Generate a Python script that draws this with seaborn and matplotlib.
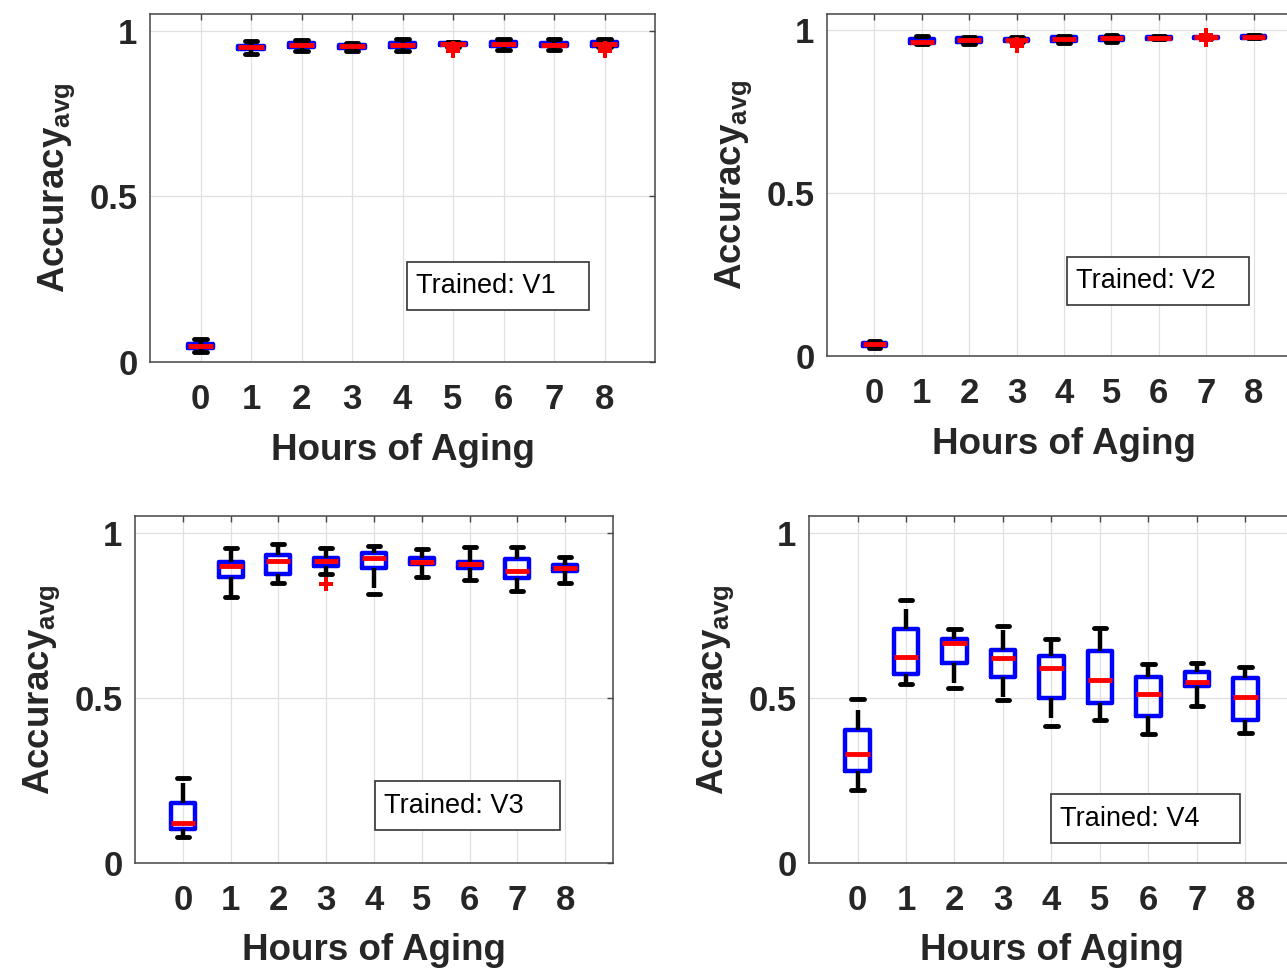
import matplotlib
matplotlib.use("Agg")
import matplotlib.pyplot as plt
from matplotlib.patches import Rectangle
import pandas as pd
import seaborn as sns

sns.set_style("white")
plt.rcParams["font.family"] = ["Liberation Sans", "DejaVu Sans"]
plt.rcParams["mathtext.fontset"] = "custom"
plt.rcParams["mathtext.rm"] = "Liberation Sans:bold"
plt.rcParams["mathtext.bf"] = "Liberation Sans:bold"

HOURS = ["0", "1", "2", "3", "4", "5", "6", "7", "8"]

# Five-number summaries per aging hour (whisker low, Q1, median, Q3, whisker high)
V1_LOW = [0.030, 0.930, 0.940, 0.937, 0.937, 0.952, 0.943, 0.942, 0.952]
V1_Q1 = [0.042, 0.945, 0.951, 0.948, 0.950, 0.956, 0.955, 0.953, 0.955]
V1_MED = [0.048, 0.950, 0.957, 0.953, 0.957, 0.960, 0.960, 0.958, 0.960]
V1_Q3 = [0.054, 0.955, 0.963, 0.958, 0.964, 0.964, 0.965, 0.963, 0.965]
V1_HIGH = [0.068, 0.970, 0.972, 0.964, 0.974, 0.966, 0.974, 0.976, 0.976]
V1_OUT_HOUR = ["5", "5", "8", "8"]
V1_OUT_VAL = [0.948, 0.940, 0.947, 0.938]

V2_LOW = [0.024, 0.958, 0.957, 0.963, 0.960, 0.965, 0.972, 0.976, 0.975]
V2_Q1 = [0.031, 0.960, 0.965, 0.966, 0.968, 0.971, 0.973, 0.977, 0.976]
V2_MED = [0.036, 0.965, 0.971, 0.970, 0.973, 0.976, 0.976, 0.978, 0.979]
V2_Q3 = [0.041, 0.972, 0.977, 0.974, 0.978, 0.981, 0.979, 0.979, 0.982]
V2_HIGH = [0.045, 0.984, 0.979, 0.981, 0.984, 0.986, 0.982, 0.980, 0.987]
V2_OUT_HOUR = ["3", "3", "7", "7"]
V2_OUT_VAL = [0.958, 0.952, 0.969, 0.987]

V3_LOW = [0.080, 0.804, 0.847, 0.875, 0.813, 0.865, 0.857, 0.822, 0.847]
V3_Q1 = [0.102, 0.865, 0.875, 0.900, 0.892, 0.904, 0.892, 0.862, 0.885]
V3_MED = [0.120, 0.900, 0.913, 0.913, 0.923, 0.912, 0.905, 0.883, 0.893]
V3_Q3 = [0.182, 0.912, 0.932, 0.922, 0.938, 0.922, 0.912, 0.920, 0.902]
V3_HIGH = [0.256, 0.952, 0.965, 0.952, 0.958, 0.950, 0.955, 0.955, 0.925]
V3_OUT_HOUR = ["3"]
V3_OUT_VAL = [0.845]

V4_LOW = [0.222, 0.541, 0.531, 0.493, 0.416, 0.434, 0.391, 0.476, 0.392]
V4_Q1 = [0.279, 0.573, 0.604, 0.564, 0.498, 0.484, 0.446, 0.536, 0.434]
V4_MED = [0.330, 0.623, 0.665, 0.621, 0.589, 0.554, 0.511, 0.548, 0.501]
V4_Q3 = [0.401, 0.707, 0.679, 0.646, 0.627, 0.642, 0.564, 0.578, 0.561]
V4_HIGH = [0.496, 0.797, 0.709, 0.718, 0.677, 0.712, 0.601, 0.606, 0.594]
V4_OUT_HOUR = []
V4_OUT_VAL = []

PANELS = [
    ("Trained: V1", V1_LOW, V1_Q1, V1_MED, V1_Q3, V1_HIGH, V1_OUT_HOUR, V1_OUT_VAL),
    ("Trained: V2", V2_LOW, V2_Q1, V2_MED, V2_Q3, V2_HIGH, V2_OUT_HOUR, V2_OUT_VAL),
    ("Trained: V3", V3_LOW, V3_Q1, V3_MED, V3_Q3, V3_HIGH, V3_OUT_HOUR, V3_OUT_VAL),
    ("Trained: V4", V4_LOW, V4_Q1, V4_MED, V4_Q3, V4_HIGH, V4_OUT_HOUR, V4_OUT_VAL),
]

# Axes rectangles (figure fraction); the right column runs past the canvas edge
AX_RECTS = [
    [0.1166, 0.6264, 0.3924, 0.3591],
    [0.6426, 0.6326, 0.3683, 0.3529],
    [0.1049, 0.1094, 0.3714, 0.3581],
    [0.6286, 0.1094, 0.3768, 0.3581],
]
# Note boxes (axes fraction: x0, y0, x1, y1)
NOTE_RECTS = [
    [0.508, 0.150, 0.869, 0.286],
    [0.507, 0.149, 0.891, 0.290],
    [0.503, 0.095, 0.889, 0.236],
    [0.500, 0.057, 0.888, 0.198],
]

TEXT_COLOR = "#262626"
LW = 3.2

fig = plt.figure(figsize=(12.87, 9.69), dpi=100)

for (note, lo, q1, med, q3, hi, out_h, out_v), rect, nrect in zip(PANELS, AX_RECTS, NOTE_RECTS):
    ax = fig.add_axes(rect)
    rows = []
    for i, h in enumerate(HOURS):
        for v in (lo[i], q1[i], med[i], q3[i], hi[i]):
            rows.append({"hour": h, "accuracy": v})
    df = pd.DataFrame(rows)

    sns.boxplot(
        data=df, x="hour", y="accuracy", order=HOURS, ax=ax,
        width=0.5, whis=(0, 100), fill=False, showfliers=False,
        linewidth=LW, color="blue",
        boxprops={"color": "#0000ff", "linewidth": LW},
        medianprops={"color": "#ff0000", "linewidth": LW + 0.3},
        whiskerprops={"color": "black", "linewidth": LW, "linestyle": (0, (4.5, 2.6))},
        capprops={"color": "black", "linewidth": LW + 0.3},
    )
    if out_h:
        odf = pd.DataFrame({"hour": out_h, "accuracy": out_v})
        sns.stripplot(
            data=odf, x="hour", y="accuracy", order=HOURS, ax=ax,
            jitter=False, marker="P", color="#ff0000", size=10, linewidth=0,
        )

    ax.set_xlim(-1, 9)
    ax.set_ylim(0, 1.05)
    ax.set_yticks([0, 0.5, 1])
    ax.set_yticklabels(["0", "0.5", "1"])
    ax.set_xticks(range(len(HOURS)))
    ax.set_xticklabels(HOURS)

    ax.grid(True, color="#e0e0e0", linewidth=0.9)
    ax.set_axisbelow(True)
    for s in ax.spines.values():
        s.set_visible(True)
        s.set_color("#454545")
        s.set_linewidth(1.1)
    ax.tick_params(axis="both", direction="in", length=4, width=1.0, color="#454545",
                   top=True, right=True, labelsize=25, labelcolor=TEXT_COLOR)
    ax.tick_params(axis="x", pad=15)
    ax.tick_params(axis="y", pad=9)
    for lab in ax.get_xticklabels() + ax.get_yticklabels():
        lab.set_fontweight("bold")

    ax.set_xlabel("Hours of Aging", fontsize=26.5, fontweight="bold", color=TEXT_COLOR, labelpad=12)
    ax.set_ylabel(r"Accuracy$_{\mathrm{avg}}$", fontsize=26.5, fontweight="bold",
                  color=TEXT_COLOR, labelpad=9)

    x0, y0, x1, y1 = nrect
    ax.add_patch(Rectangle((x0, y0), x1 - x0, y1 - y0, transform=ax.transAxes,
                           facecolor="white", edgecolor="#333333", linewidth=1.2, zorder=5))
    ax.text(x0 + 0.018, (y0 + y1) / 2, note, transform=ax.transAxes, ha="left", va="center",
            fontsize=19.5, color="black", zorder=6)

fig.savefig("out.png", dpi=100)
